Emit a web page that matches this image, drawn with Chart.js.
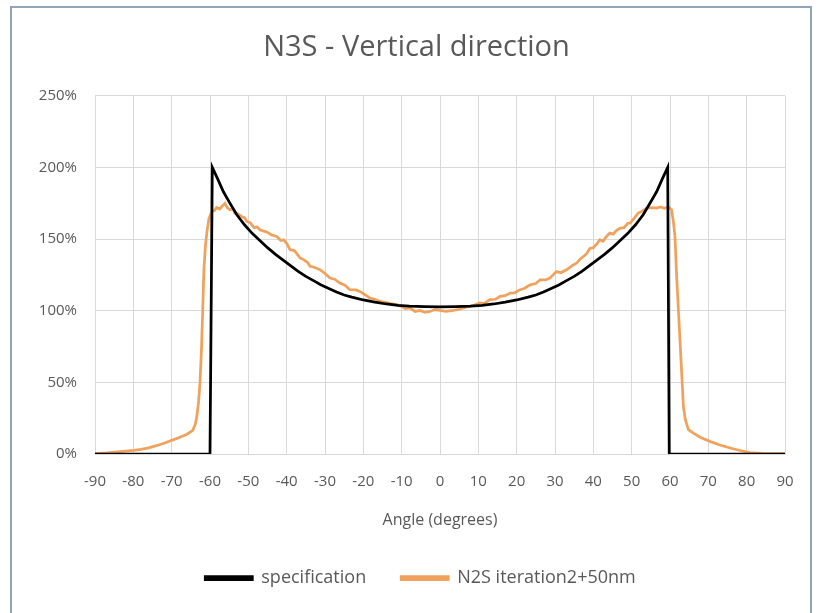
<!DOCTYPE html>
<html lang="en">
<head>
<meta charset="UTF-8">
<title>N3S - Vertical direction</title>
<script src="https://cdn.jsdelivr.net/npm/chart.js"></script>
<style>
  body { margin: 0; background: #ffffff; }
  #frame {
    position: absolute; left: 10px; top: 6px; width: 798px; height: 640px;
    border: 2px solid #92a6b6; pointer-events: none;
  }
  #wrap { position: absolute; left: 0; top: 0; width: 824px; height: 613px; }
</style>
</head>
<body>
<div id="wrap"><canvas id="chart"></canvas></div>
<div id="frame"></div>
<script>
// specification curve (angle in degrees, value in %)
const specAngles = [-90, -60, -59.4, -58, -56.5, -55, -53, -51, -49, -47, -45, -43, -41, -39, -37, -35, -33, -31, -29, -27, -25, -23, -20, -17, -14, -11, -8, -4,
  0, 4, 8, 11, 14, 17, 20, 23, 25, 27, 29, 31, 33, 35, 37, 39, 41, 43, 45, 47, 49, 51, 53, 55, 56.5, 58, 59.4, 59.8, 90];
const specValues = [0, 0, 200, 192, 183, 176, 167, 160, 154, 149, 144, 139.5, 135.5, 131.5, 127.5, 124, 121, 118, 115.5, 113, 111, 109.5, 107.5, 106, 104.7, 103.8, 103.2, 102.8,
  102.6, 102.8, 103.2, 103.8, 104.7, 106, 107.5, 109.5, 111, 113, 115.5, 118, 121, 124, 127.5, 131.5, 135.5, 139.5, 144, 149, 154, 160, 167, 176, 183, 192, 200, 0, 0];

// measured N2S iteration2+50nm
const measAngles = [-90, -87, -84, -82, -80, -78, -76, -74, -72, -70, -68, -66, -64.5, -63.8, -63.4, -63, -62.6, -62.2, -61.9, -61.6, -61.2, -60.8, -60.3,
  -59.6, -58.8, -58.3, -57.5, -56.8, -56.1, -55.5, -54.8, -54, -53.5, -52.7, -51.8, -51, -50.4, -49.5, -48.5, -47.7, -47, -46, -45.2, -44, -42.6, -41.5,
  -40.8, -40, -39.1, -38, -37.4, -36.5, -35.5, -34.5, -33.9, -33, -31.3, -30, -28.7, -27.5, -26.1, -24.8, -23.5, -22, -20.9, -19.5, -18.3, -17, -15.7,
  -14.5, -13, -11.5, -10.4, -9, -7.8, -6.5, -5.2, -4, -2.6, -1.3, 0, 1.5, 3.5, 5, 7, 8.5, 10.4, 11.5, 13, 14.5, 15.7, 17, 18.3, 19.5, 20.9, 22, 23.5,
  25, 26.1, 27.5, 28.7, 29.5, 30.4, 31.5, 33, 34.5, 35.7, 36.5, 37.5, 38.3, 39.1, 40, 41, 41.7, 42.5, 43.5, 44.3, 45.2, 46, 47, 48, 49, 49.6, 50.5,
  51.7, 52.8, 53.9, 55, 56.5, 57.5, 58.5, 59.6, 60.4, 60.9, 61.3, 61.7, 62.2, 62.6, 63, 63.5, 64, 64.8, 66.1, 68, 70.4, 73, 75.7, 78, 80.9, 84, 87, 90];
const measValues = [0.3, 0.8, 1.5, 2, 2.5, 3.2, 4.3, 5.8, 7.5, 9.5, 11.5, 13.8, 16.5, 21, 27, 36, 50, 75, 100, 128, 145, 155, 164,
  169, 170, 172, 171, 173, 175, 172, 170.5, 171, 168, 167.5, 165.8, 165, 162.3, 161.5, 158, 158.5, 156.5, 155.5, 155, 153, 151.8, 149,
  149.5, 147, 142.6, 142, 140, 136.8, 135.5, 133.5, 131, 130.5, 128.6, 126, 122.8, 122, 119.3, 117.8, 114.7, 114.5, 113.5, 111, 108.9, 108, 106.5,
  106, 104.9, 104.5, 103.5, 101.5, 101.9, 99.5, 100.2, 98.8, 99.5, 100.8, 100.2, 99.6, 100.2, 101, 102.6, 103.5, 105.4, 105, 107.7, 108, 110, 110.5, 112.3, 112.5, 114.7, 115.5, 118.1,
  119, 121.6, 121.5, 122.8, 125, 127.4, 126.5, 128.6, 131.5, 133.3, 136, 138, 140, 143.5, 144, 147, 149.5, 148.5, 152, 154.2, 153.5, 156, 157.7, 158, 161, 161.2, 164,
  168.2, 169.5, 171.7, 172, 171.7, 172.5, 171.5, 172.4, 170.5, 162, 151.8, 126, 100, 79.8, 58.8, 33, 24, 17, 14.6, 11.5, 8.8, 6.3, 4.2, 2.6, 0.9, 0.5, 0.3, 0.2];

const seriesNames = ['specification', 'N2S iteration2+50nm'];
const yTicks = [0, 50, 100, 150, 200, 250];

const toPoints = (xs, ys) => xs.map((x, i) => ({ x: x, y: ys[i] }));

const textColor = '#595959';
const gridColor = '#d9d9d9';
const font = 'Open Sans, sans-serif';

// nudge title and legend to the right, as in the original
const shiftBlocks = {
  id: 'shiftBlocks',
  afterLayout(chart) {
    chart.titleBlock.left += 14;
    chart.titleBlock.right += 14;
    chart.legend.left += 18;
    chart.legend.right += 18;
  }
};

new Chart(document.getElementById('chart'), {
  type: 'line',
  data: {
    datasets: [
      {
        label: seriesNames[0],
        data: toPoints(specAngles, specValues),
        borderColor: '#000000',
        backgroundColor: '#000000',
        borderWidth: 2.75,
        pointRadius: 0,
        tension: 0
      },
      {
        label: seriesNames[1],
        data: toPoints(measAngles, measValues),
        borderColor: '#f0a25c',
        backgroundColor: '#f0a25c',
        borderWidth: 2.75,
        pointRadius: 0,
        tension: 0
      }
    ]
  },
  plugins: [shiftBlocks],
  options: {
    responsive: true,
    maintainAspectRatio: false,
    animation: false,
    layout: { padding: { left: 20, right: 39, top: 0, bottom: 16 } },
    plugins: {
      title: {
        display: true,
        text: 'N3S - Vertical direction',
        color: textColor,
        font: { family: font, size: 29, weight: 'normal' },
        padding: { top: 30, bottom: 31 }
      },
      legend: {
        position: 'bottom',
        labels: {
          color: textColor,
          font: { family: font, size: 18 },
          boxWidth: 47,
          boxHeight: 3,
          padding: 35
        }
      },
      tooltip: { enabled: false }
    },
    scales: {
      x: {
        type: 'linear',
        min: -90,
        max: 90,
        afterFit: (axis) => { axis.height = 80; },
        ticks: {
          stepSize: 10,
          autoSkip: false,
          maxRotation: 0,
          color: textColor,
          font: { family: font, size: 15 },
          padding: 19
        },
        grid: { color: gridColor, drawTicks: false },
        border: { color: gridColor },
        title: {
          display: true,
          text: 'Angle (degrees)',
          color: textColor,
          font: { family: font, size: 16 },
          padding: { top: 0, bottom: 4 }
        }
      },
      y: {
        min: 0,
        max: 250,
        afterBuildTicks: (axis) => { axis.ticks = yTicks.map(v => ({ value: v })); },
        afterFit: (axis) => { axis.width = 75; },
        ticks: {
          color: textColor,
          font: { family: font, size: 15 },
          padding: 18,
          callback: (v) => v + '%'
        },
        grid: { color: gridColor, drawTicks: false },
        border: { color: gridColor }
      }
    }
  }
});
</script>
</body>
</html>
